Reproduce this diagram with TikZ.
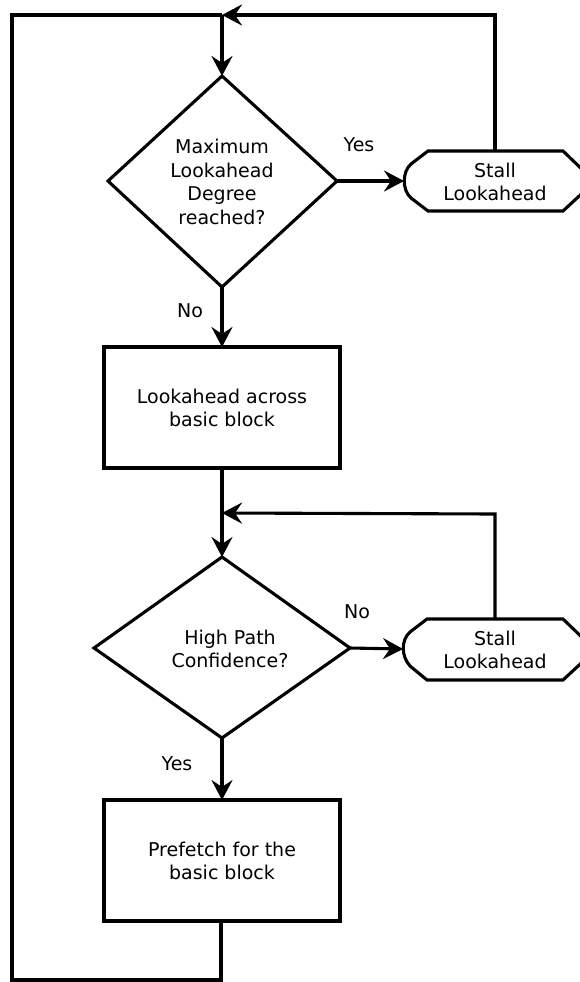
\documentclass[tikz,border=0pt]{standalone}
\usepackage{fontspec}
\setmainfont{DejaVu Sans}
\usetikzlibrary{arrows.meta}
\begin{document}
\begin{tikzpicture}[x=1pt,y=-1pt,
  line width=3.1pt, line join=miter,
  arr/.style={-{Stealth[length=20pt,width=21pt,inset=7pt]}},
  lbl/.style={font=\fontsize{19}{23.5}\selectfont, align=center, inner sep=0pt},
  edge/.style={font=\fontsize{19}{22}\selectfont, inner sep=0pt}]
\useasboundingbox (0,0) rectangle (580,982);

% decision 1
\draw (222,76) coordinate (d1t) -- (337,181) coordinate (d1r) -- (222,287) coordinate (d1b) -- (108,181) coordinate (d1l) -- cycle;
\node[lbl] (d1) at (222,182) {Maximum\\Lookahead\\Degree\\reached?};

% process 1
\draw (104,347) rectangle (340,468);
\coordinate (p1t) at (222,347);
\coordinate (p1b) at (222,468);
\node[lbl] (p1) at (222,408) {Lookahead across\\ basic block};

% decision 2
\draw (222,557) coordinate (d2t) -- (350,648) coordinate (d2r) -- (222,738) coordinate (d2b) -- (94,648) coordinate (d2l) -- cycle;
\node[lbl] (d2) at (230,649) {High Path\\Confidence?};

% process 2
\draw (104,800) rectangle (340,921);
\coordinate (p2t) at (222,800);
\coordinate (p2b) at (221,921);
\node[lbl] (p2) at (222,861) {Prefetch for the\\ basic block};

% stall terminals
\draw (590,177) -- (563,151) -- (428,151) -- (411,164) .. controls (402,172) and (402,190) .. (411,198) -- (428,211) -- (563,211) -- (590,186);
\coordinate (s1l) at (404,181);
\coordinate (s1t) at (495,151);
\node[lbl] (s1) at (495,182) {Stall\\Lookahead};

\draw (590,645) -- (563,619) -- (427,619) -- (410,632) .. controls (401,640) and (401,656) .. (410,666) -- (427,680) -- (563,680) -- (590,655);
\coordinate (s2l) at (403,649);
\coordinate (s2t) at (495,619);
\node[lbl] (s2) at (495,650) {Stall\\Lookahead};

% loop joins
\coordinate (j1) at (222,15);
\coordinate (j2) at (222,513);
\coordinate (c1) at (12,15);
\coordinate (c2) at (12,980);
\coordinate (c3) at (221,980);

% connectors
\draw[arr] (j1) -- (d1t);
\draw[arr] (d1r) -- (s1l);
\draw[arr] (d1b) -- (p1t);
\draw[arr] (p1b) -- (d2t);
\draw[arr] (d2r) -- (s2l);
\draw[arr] (d2b) -- (p2t);
\draw[arr] (s1t) -- (495,15) -- (j1);
\draw[arr] (s2t) -- (495,514) -- (j2);
\draw (p2b) -- (c3) -- (c2) -- (c1) -- (j1);

% edge labels
\node[edge] (ly1) at (359,145) {Yes};
\node[edge] (ln1) at (190,311) {No};
\node[edge] (ln2) at (357,612) {No};
\node[edge] (ly2) at (177,764) {Yes};
\end{tikzpicture}
\end{document}
